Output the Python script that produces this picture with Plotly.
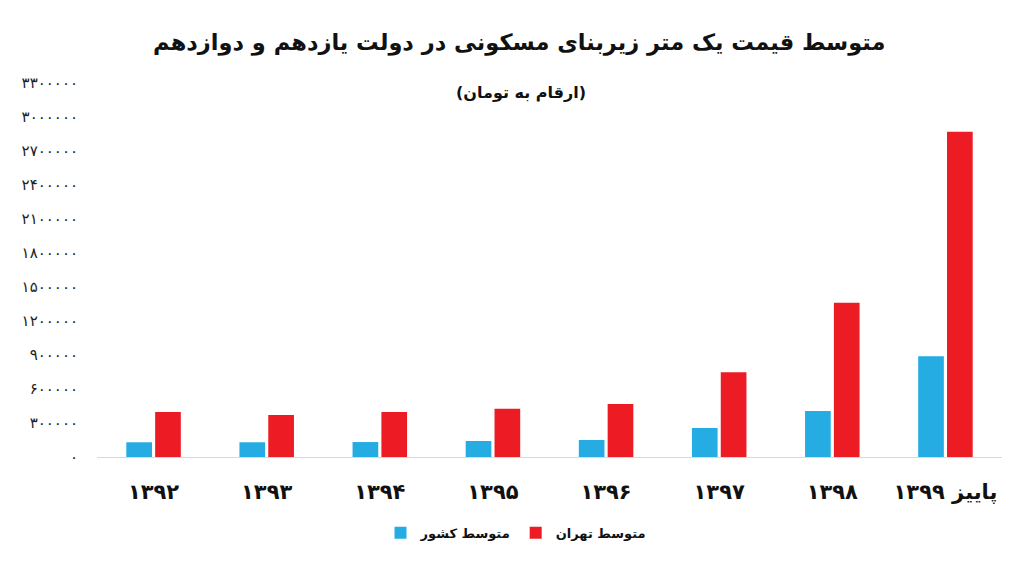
import plotly.graph_objects as go

categories = ["۱۳۹۲", "۱۳۹۳", "۱۳۹۴", "۱۳۹۵", "۱۳۹۶", "۱۳۹۷", "۱۳۹۸", "پاییز ۱۳۹۹"]
country_avg = [130000, 130000, 132000, 141000, 150000, 256000, 406000, 890000]
tehran_avg = [397000, 371000, 397000, 426000, 468000, 748000, 1360000, 2870000]

series_names = ["متوسط کشور", "متوسط تهران"]
y_tick_vals = [0, 300000, 600000, 900000, 1200000, 1500000, 1800000, 2100000,
               2400000, 2700000, 3000000, 3300000]
y_tick_text = ["۰", "۳۰۰۰۰۰", "۶۰۰۰۰۰", "۹۰۰۰۰۰", "۱۲۰۰۰۰۰", "۱۵۰۰۰۰۰", "۱۸۰۰۰۰۰",
               "۲۱۰۰۰۰۰", "۲۴۰۰۰۰۰", "۲۷۰۰۰۰۰", "۳۰۰۰۰۰۰", "۳۳۰۰۰۰۰"]

title_text = "متوسط قیمت یک متر زیربنای مسکونی در دولت یازدهم و دوازدهم"
subtitle_text = "(ارقام به تومان)"

BLUE = "#25ADE3"
RED = "#ED1C24"
FONT = "DejaVu Sans"

fig = go.Figure()
fig.add_trace(go.Bar(x=categories, y=country_avg, name=series_names[0],
                     marker=dict(color=BLUE, line=dict(width=0))))
fig.add_trace(go.Bar(x=categories, y=tehran_avg, name=series_names[1],
                     marker=dict(color=RED, line=dict(width=0))))

# page body has an 8px default margin; compensate in size and margins
fig.update_layout(
    width=1017, height=559,
    margin=dict(l=89, r=23, t=75, b=110),
    paper_bgcolor="white", plot_bgcolor="white",
    barmode="group", bargap=0.49, bargroupgap=0.11,
    font=dict(family=FONT, color="#111111"),
    showlegend=True,
    legend=dict(orientation="h", x=0.463, xanchor="center", y=-0.203, yanchor="middle",
                font=dict(family=FONT, size=13, color="#111111", weight="bold"),
                itemwidth=30, traceorder="normal"),
    annotations=[
        dict(text="<b>" + title_text + "</b>", xref="paper", yref="paper",
             x=0.466, y=1.0 + (83 - 42) / 374, xanchor="center", yanchor="middle",
             showarrow=False, font=dict(family=FONT, size=22.5, color="#111111")),
        dict(text="<b>" + subtitle_text + "</b>", xref="paper", yref="paper",
             x=0.468, y=1.0 + (83 - 92) / 374, xanchor="center", yanchor="middle",
             showarrow=False, font=dict(family=FONT, size=16, color="#111111")),
    ],
)

fig.update_xaxes(
    showline=True, linecolor="#d9d9d9", linewidth=1,
    showgrid=False, ticks="", zeroline=False,
    tickfont=dict(family=FONT, size=21, color="#111111", weight="bold"),
    ticklabelstandoff=16,
)
fig.update_yaxes(
    range=[0, 3300000], tickmode="array", tickvals=y_tick_vals, ticktext=y_tick_text,
    showgrid=False, zeroline=False, showline=False, ticks="",
    tickfont=dict(family=FONT, size=15, color="#222222"),
    ticklabelstandoff=18,
)

fig.write_html("out.html")
